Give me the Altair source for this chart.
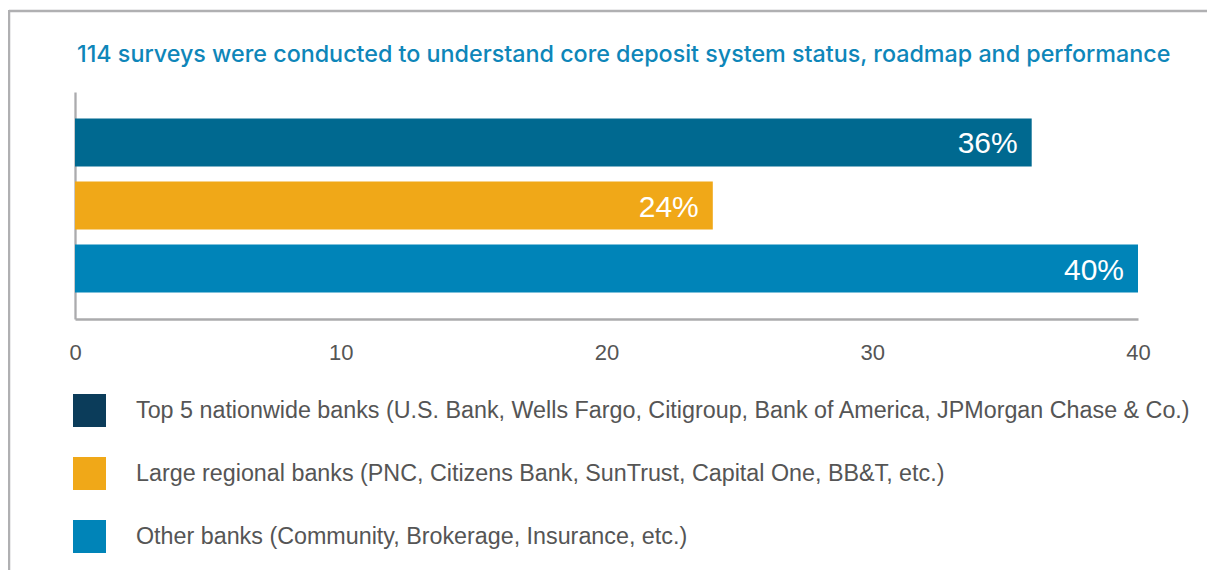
import altair as alt
import pandas as pd

categories = [
    "Top 5 nationwide banks (U.S. Bank, Wells Fargo, Citigroup, Bank of America, JPMorgan Chase & Co.)",
    "Large regional banks (PNC, Citizens Bank, SunTrust, Capital One, BB&T, etc.)",
    "Other banks (Community, Brokerage, Insurance, etc.)",
]
values = [36, 24, 40]
value_labels = ["36%", "24%", "40%"]
bar_colors = ["#006990", "#f0a818", "#0084b8"]
legend_colors = ["#0b3c5a", "#f0a818", "#0084b8"]
x_ticks = [0, 10, 20, 30, 40]
title_text = "114 surveys were conducted to understand core deposit system status, roadmap and performance"

df = pd.DataFrame({"category": categories, "value": values, "label": value_labels})
frame_df = pd.DataFrame({"k": [0]})

FONT = "Liberation Sans"
AXIS_GRAY = "#ababad"

y_enc = alt.Y(
    "category:N",
    sort=categories,
    scale=alt.Scale(paddingInner=0.238, paddingOuter=0.42),
    axis=alt.Axis(title=None, labels=False, ticks=False, grid=False,
                  domainColor=AXIS_GRAY, domainWidth=2.3),
)
x_enc = alt.X(
    "value:Q",
    scale=alt.Scale(domain=[0, 40], nice=False),
    axis=alt.Axis(title=None, values=x_ticks, ticks=False, tickSize=0, grid=False,
                  labelFontSize=22, labelColor="#555555", labelFont=FONT,
                  labelPadding=33, labelBaseline="middle", labelFlush=False,
                  domainColor=AXIS_GRAY, domainWidth=2.3),
)

frame_top = alt.Chart(frame_df).mark_rule(color="#b0b0b2", strokeWidth=2.5).encode(
    x=alt.value(-66), x2=alt.value(1160), y=alt.value(-81)
)
frame_left = alt.Chart(frame_df).mark_rule(color="#b0b0b2", strokeWidth=2.5).encode(
    x=alt.value(-66), y=alt.value(-82), y2=alt.value(520)
)

title_mark = alt.Chart(frame_df).mark_text(
    text=title_text, align="left", baseline="alphabetic", fontSize=23.3,
    font="Inter", fontWeight=500, color="#0e86b9",
).encode(x=alt.value(2), y=alt.value(-30))

legend_layer = alt.Chart(df).mark_bar(opacity=0).encode(
    x=x_enc,
    y=y_enc,
    color=alt.Color(
        "category:N",
        sort=categories,
        scale=alt.Scale(domain=categories, range=legend_colors),
        legend=alt.Legend(
            title=None, orient="none", legendX=-2, legendY=302,
            symbolType="square", symbolSize=1089, symbolOpacity=1,
            symbolStrokeWidth=0, labelFontSize=23.3, labelColor="#555555",
            labelFont=FONT, labelOffset=30, rowPadding=30, labelLimit=2000,
            padding=0,
        ),
    ),
)

bars = alt.Chart(df).mark_bar().encode(
    x=x_enc,
    y=y_enc,
    fill=alt.Fill("category:N", sort=categories,
                  scale=alt.Scale(domain=categories, range=bar_colors), legend=None),
)

text = alt.Chart(df).mark_text(
    align="right", baseline="middle", dx=-14, dy=2, color="white", fontSize=30, font=FONT
).encode(x=x_enc, y=y_enc, text="label:N")

chart = alt.layer(frame_top, frame_left, title_mark, legend_layer, bars, text).properties(
    width=1063,
    height=227,
    padding={"left": 67, "top": 84, "right": 69, "bottom": 251},
    autosize=alt.AutoSizeParams(type="none"),
).configure_view(stroke=None)

chart.save("out.html", embed_options={"renderer": "svg", "actions": False})
